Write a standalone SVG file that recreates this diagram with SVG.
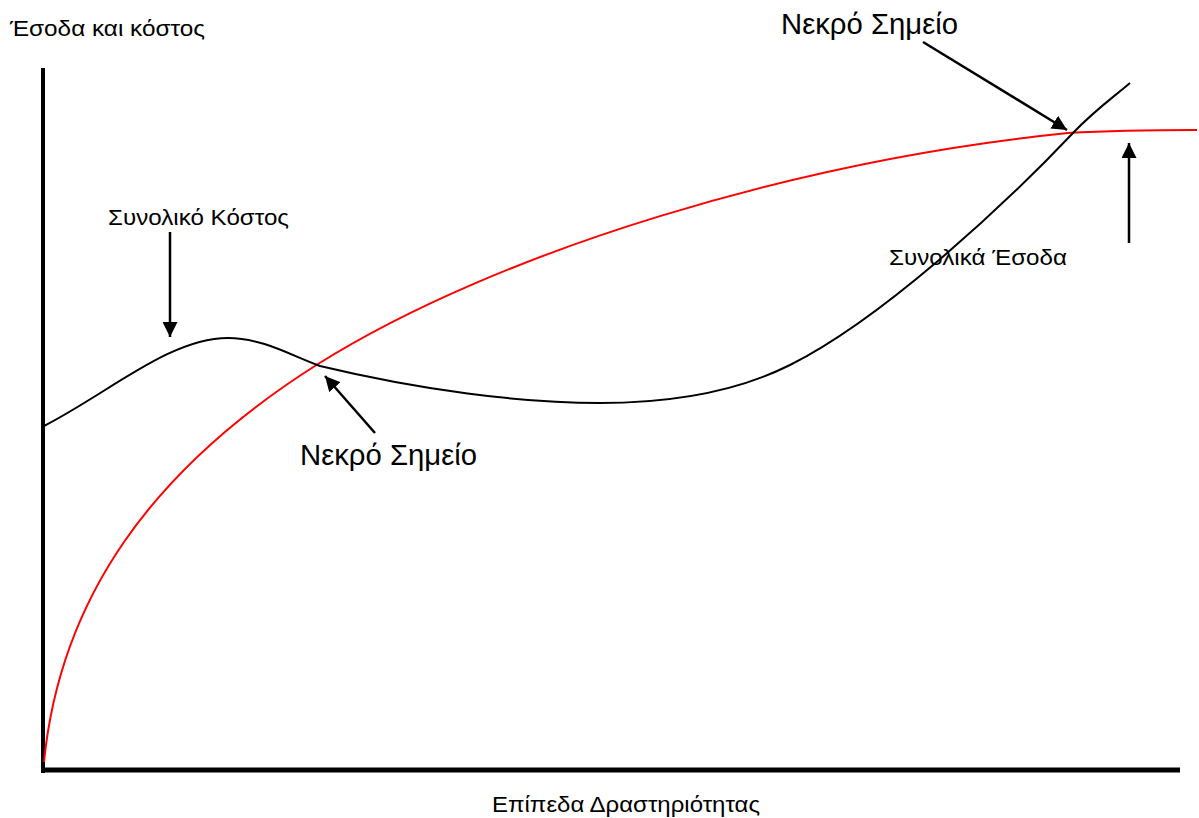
<svg xmlns="http://www.w3.org/2000/svg" width="1199" height="818" viewBox="0 0 1199 818">
  <style>
    .lbl { font-family: "Liberation Sans", Arial, sans-serif; fill: #000; }
    .sm { font-size: 22px; }
    .lg { font-size: 29px; }
    .axis { stroke: #000; fill: none; }
    .curve { fill: none; stroke-width: 2; }
    .arrow { stroke: #000; stroke-width: 2.5; fill: none; marker-end: url(#head); }
  </style>
  <defs>
    <marker id="head" viewBox="0 0 10 10" refX="10" refY="5" markerWidth="6" markerHeight="6" markerUnits="strokeWidth" orient="auto">
      <path d="M0,0 L10,5 L0,10 Z" fill="#000"/>
    </marker>
  </defs>

  <!-- axes -->
  <g id="axes">
    <line class="axis" x1="43" y1="68" x2="43" y2="773" stroke-width="4"/>
    <line class="axis" x1="41" y1="770" x2="1180" y2="770" stroke-width="5"/>
  </g>

  <!-- curves and pointer arrows -->
  <g id="connectors">
    <path id="revenue" class="curve" stroke="#ff0000" d="M44,762 C60,600 150,470 318,364 C500,250 800,160 1068,133 C1120,130 1160,130 1197,130"/>
    <path id="cost" class="curve" stroke="#000" d="M44,426 C110,392 170,338 228,338 C262,338 290,355 320,366 C420,390 520,403 600,403 C680,403 740,390 790,365 C880,320 1000,210 1073,133 C1095,110 1110,100 1130,83"/>
    <line class="arrow" x1="170" y1="232" x2="170" y2="337"/>
    <line class="arrow" x1="375" y1="433" x2="325" y2="376"/>
    <line class="arrow" x1="923" y1="42" x2="1067" y2="130"/>
    <line class="arrow" x1="1129" y1="243" x2="1129" y2="143"/>
  </g>

  <!-- labels -->
  <g id="label-y"><text class="lbl sm" x="10" y="36" textLength="195" lengthAdjust="spacingAndGlyphs">Έσοδα και κόστος</text></g>
  <g id="label-x"><text class="lbl sm" x="492" y="812" textLength="268" lengthAdjust="spacingAndGlyphs">Επίπεδα Δραστηριότητας</text></g>
  <g id="label-cost"><text class="lbl sm" x="108" y="225" textLength="181" lengthAdjust="spacingAndGlyphs">Συνολικό Κόστος</text></g>
  <g id="label-revenue"><text class="lbl sm" x="889" y="265" textLength="178" lengthAdjust="spacingAndGlyphs">Συνολικά Έσοδα</text></g>
  <g id="label-bep1"><text class="lbl lg" x="300" y="465" textLength="177" lengthAdjust="spacingAndGlyphs">Νεκρό Σημείο</text></g>
  <g id="label-bep2"><text class="lbl lg" x="781" y="34" textLength="177" lengthAdjust="spacingAndGlyphs">Νεκρό Σημείο</text></g>
</svg>
